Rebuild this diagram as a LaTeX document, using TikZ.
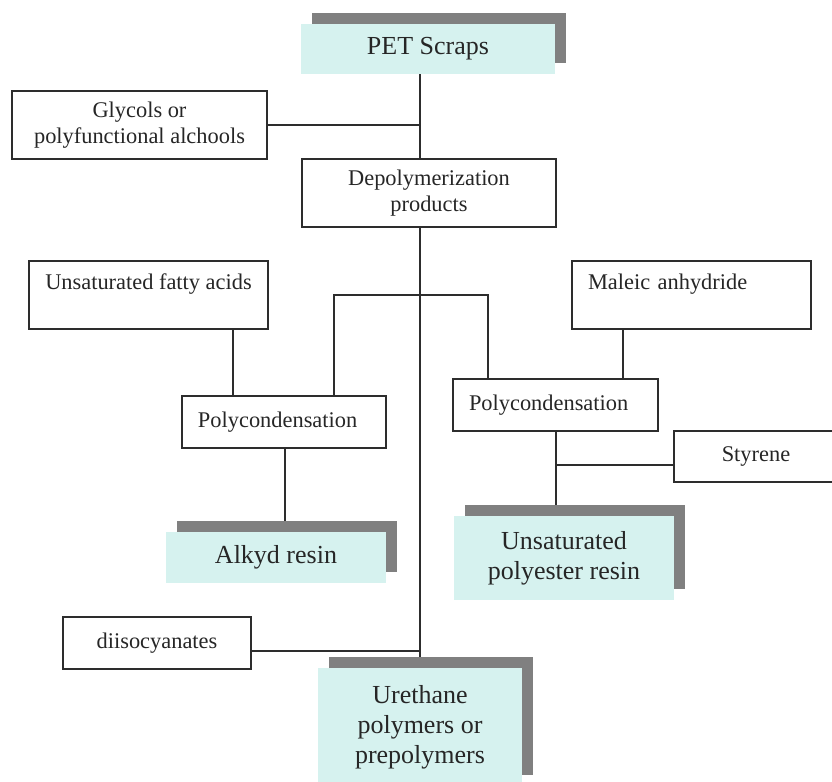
\documentclass[tikz,border=0pt]{standalone}
\usepackage{fontspec}
\setmainfont{Liberation Serif}
\usetikzlibrary{shadows,backgrounds}

\definecolor{linegray}{RGB}{45,45,45}
\definecolor{resincyan}{RGB}{214,242,239}
\definecolor{shadowgray}{RGB}{128,128,128}
\newcommand{\boxfont}{\fontsize{11.2}{13}\selectfont}
\newcommand{\resinfont}{\fontsize{13}{15}\selectfont}

\begin{document}
\begin{tikzpicture}[x=0.5pt, y=-0.5pt, text=black!85]

%====Box styles=============================================================

	\tikzstyle{plainbox}=[draw=linegray, line width=0.8pt, fill=white, font=\boxfont, align=center, inner sep=0pt]
	\tikzstyle{leftbox}=[plainbox, align=left, inner xsep=8pt]
	\tikzstyle{resinbox}=[fill=resincyan, font=\resinfont, align=center, inner sep=0pt,
		drop shadow={shadow xshift=5.5pt, shadow yshift=5.5pt, opacity=1, fill=shadowgray}]
	\tikzstyle{link}=[draw=linegray, line width=0.75pt]

	\useasboundingbox (0,0) rectangle (832,782);
	\clip (0,0) rectangle (832,782);

%====Boxes and positions====================================================

	\node[resinbox, minimum width=127pt, minimum height=25pt]   (pet)   at (428,49)    {PET Scraps};
	\node[plainbox, minimum width=127.5pt, minimum height=34pt] (glyc)  at (139.5,125) {Glycols or\\polyfunctional alchools};
	\node[plainbox, minimum width=127pt, minimum height=34pt]   (depo)  at (429,193)   {Depolymerization\\products};
	\node[plainbox, minimum width=119.5pt, minimum height=34pt] (fatty) at (148.5,295) {Unsaturated fatty acids\\~};
	\node[leftbox, text width=103.5pt, minimum height=34pt]     (male)  at (691.5,295) {Maleic anhydride\\~};
	\node[leftbox, text width=86pt, minimum height=26pt]        (polyL) at (284,422)   {Polycondensation};
	\node[leftbox, text width=86.5pt, minimum height=26pt]      (polyR) at (555.5,405) {Polycondensation};
	\node[plainbox, minimum width=82pt, minimum height=25.5pt]  (sty)   at (756,456.5) {Styrene};
	\node[resinbox, minimum width=110pt, minimum height=25.5pt] (alkyd) at (276,557.5) {Alkyd resin};
	\node[resinbox, minimum width=110pt, minimum height=42pt]   (unsat) at (564,558)   {Unsaturated\\polyester resin};
	\node[plainbox, minimum width=94pt, minimum height=26pt]    (diiso) at (157,643)   {diisocyanates};
	\node[resinbox, minimum width=102pt, minimum height=59pt]   (ureth) at (420,727)   {Urethane\\polymers or\\prepolymers};

%====Junction points========================================================

	\coordinate (trunk) at (420,0);
	\coordinate (fa)    at (233,0);
	\coordinate (ma)    at (623,0);
	\coordinate (al)    at (285,0);
	\coordinate (up)    at (556,0);
	\coordinate (bl)    at (334,295);
	\coordinate (br)    at (488,295);
	\coordinate (sj)    at (556,465);
	\coordinate (dj)    at (420,651);

%====Connectors=============================================================

	\begin{scope}[on background layer]
		\draw[link] (pet.south -| trunk)   -- (depo.north -| trunk);
		\draw[link] (glyc.east)            -- (glyc.east -| trunk);
		\draw[link] (depo.south -| trunk)  -- (ureth.north -| trunk);
		\draw[link] (polyL.north -| bl) -- (bl) -- (br) -- (polyR.north -| br);
		\draw[link] (fatty.south -| fa)    -- (polyL.north -| fa);
		\draw[link] (male.south -| ma)     -- (polyR.north -| ma);
		\draw[link] (polyL.south -| al)    -- (alkyd.north -| al);
		\draw[link] (polyR.south -| up)    -- (unsat.north -| up);
		\draw[link] (sj)                   -- (sj -| sty.west);
		\draw[link] (dj -| diiso.east)     -- (dj);
	\end{scope}
\end{tikzpicture}
\end{document}
